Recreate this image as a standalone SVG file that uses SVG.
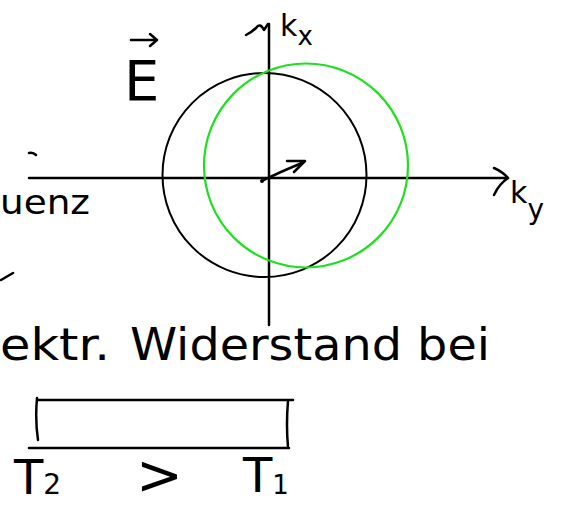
<svg xmlns="http://www.w3.org/2000/svg" width="565" height="507" viewBox="0 0 565 507">
<style>
.ink{fill:none;stroke:#000;stroke-width:2.5;stroke-linecap:round;stroke-linejoin:round}
.txt{font-family:"DejaVu Sans","Liberation Sans",sans-serif;fill:#000}
</style>
<rect width="565" height="507" fill="#fff"/>
<g id="connectors">
<path class="ink" d="M29,178 H508"/>
<path class="ink" d="M494,168 Q503,172 508,178 Q499,184 494,195"/>
<path class="ink" d="M269,24 V325"/>
<path class="ink" d="M246,35 Q252,32 256,28 Q260,22 264,30 L268,24"/>
<path class="ink" d="M264,180 Q280,172 302,163 M287,161 L305,161 L294,172"/>
<circle cx="262" cy="181" r="2" fill="#000"/>
</g>
<g id="black-circle"><circle cx="264.5" cy="175" r="102" fill="none" stroke="#000" stroke-width="2"/></g>
<g id="green-circle"><circle cx="306" cy="165.5" r="102" fill="none" stroke="#1ee01e" stroke-width="2.2"/></g>
<g id="label-E">
<text class="txt" x="124" y="100" font-size="56">E</text>
<path class="ink" d="M131,40 H156 M150,34 L157,40 L150,46"/>
</g>
<g id="label-kx"><text class="txt" x="280" y="36" font-size="30">k<tspan dy="9" font-size="26">x</tspan></text></g>
<g id="label-ky"><text class="txt" x="510" y="203" font-size="30">k<tspan dy="16" font-size="28">y</tspan></text></g>
<g id="label-uenz"><text class="txt" x="0" y="214" font-size="34" textLength="90" lengthAdjust="spacingAndGlyphs">uenz</text></g>
<path class="ink" d="M29,153 Q33,152 36,155"/>
<path class="ink" d="M1,280 L13,273"/>
<g id="label-widerstand">
<text class="txt" x="0" y="360" font-size="44" textLength="110" lengthAdjust="spacingAndGlyphs">ektr.</text>
<text class="txt" x="130" y="360" font-size="44" textLength="360" lengthAdjust="spacingAndGlyphs">Widerstand bei</text>
</g>
<g id="bar">
<path class="ink" d="M38,400 H293 M29,448 H289 M37,398 Q35,420 38,440 M288,401 Q286,425 288,447"/>
</g>
<g id="label-T">
<text class="txt" x="14" y="494" font-size="48">T<tspan font-size="28">2</tspan></text>
<text class="txt" x="136" y="494" font-size="56">&gt;</text>
<text class="txt" x="243" y="492" font-size="48">T<tspan dy="2" font-size="26">1</tspan></text>
</g>
</svg>
